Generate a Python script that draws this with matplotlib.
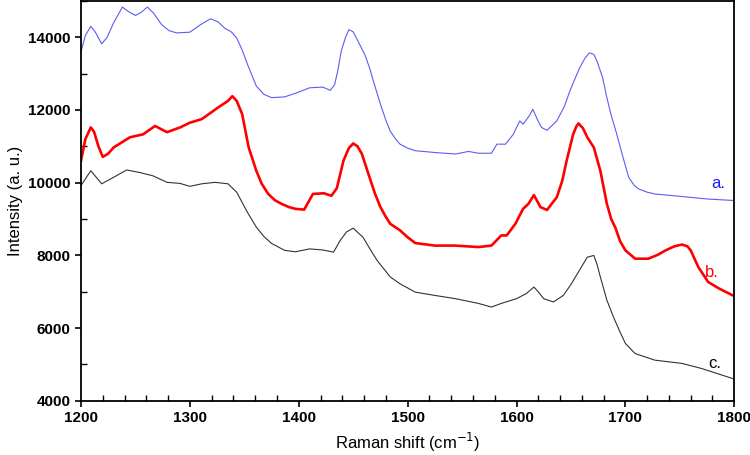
import numpy as np
import matplotlib.pyplot as plt
from matplotlib.ticker import MultipleLocator

plt.rcParams['font.family'] = ['Liberation Sans', 'DejaVu Sans']

# espectro a. (azul)
x_a = [1200, 1204, 1209, 1213, 1219, 1224, 1230, 1238, 1244, 1250, 1255, 1261, 1267,
       1274, 1281, 1288, 1300, 1310, 1319, 1326, 1332, 1338, 1343, 1348, 1353, 1361,
       1368, 1375, 1387, 1397, 1410, 1422, 1429, 1433, 1436, 1439, 1443, 1446, 1450,
       1456, 1461, 1465, 1470, 1475, 1480, 1484, 1489, 1493, 1500, 1507, 1525, 1544,
       1556, 1565, 1577, 1582, 1590, 1597, 1603, 1606, 1612, 1615, 1619, 1623, 1628,
       1637, 1644, 1649, 1654, 1658, 1663, 1667, 1671, 1674, 1679, 1683, 1687, 1691,
       1697, 1703, 1708, 1712, 1720, 1727, 1752, 1776, 1800]
y_a = [13600, 14050, 14300, 14150, 13820, 14000, 14400, 14830, 14700, 14600, 14680, 14830, 14650,
       14350, 14180, 14120, 14140, 14350, 14510, 14420, 14250, 14150, 13980, 13650, 13250, 12660,
       12430, 12340, 12360, 12460, 12610, 12630, 12540, 12700, 13100, 13620, 14000, 14210, 14150,
       13800, 13500, 13160, 12650, 12160, 11720, 11420, 11200, 11060, 10950, 10880, 10830, 10790,
       10860, 10810, 10810, 11060, 11060, 11330, 11700, 11610, 11850, 12020, 11750, 11520, 11440,
       11700, 12100, 12520, 12880, 13160, 13430, 13570, 13530, 13340, 12900, 12340, 11850, 11450,
       10790, 10150, 9930, 9830, 9740, 9690, 9620, 9550, 9510]

# espectro b. (rojo)
x_b = [1200, 1204, 1209, 1212, 1216, 1220, 1225, 1230, 1245, 1257, 1268, 1279, 1291,
       1300, 1311, 1326, 1335, 1339, 1343, 1348, 1354, 1361, 1366, 1372, 1378, 1384,
       1391, 1397, 1405, 1413, 1423, 1430, 1435, 1441, 1446, 1450, 1454, 1458, 1465,
       1470, 1475, 1480, 1484, 1493, 1500, 1507, 1525, 1544, 1565, 1577, 1586, 1591,
       1599, 1606, 1611, 1616, 1622, 1628, 1637, 1642, 1646, 1652, 1655, 1657, 1661,
       1665, 1671, 1677, 1683, 1687, 1691, 1695, 1700, 1709, 1721, 1730, 1737, 1745,
       1752, 1757, 1760, 1767, 1776, 1786, 1800]
y_b = [10600, 11200, 11520, 11400, 11000, 10710, 10800, 10970, 11250, 11330, 11560, 11390, 11520,
       11650, 11750, 12070, 12250, 12380, 12250, 11890, 10970, 10330, 9970, 9690, 9520, 9420,
       9330, 9280, 9260, 9690, 9710, 9640, 9850, 10600, 10950, 11080, 11000, 10790, 10150,
       9700, 9330, 9060, 8870, 8690, 8500, 8340, 8270, 8270, 8230, 8270, 8550, 8550,
       8870, 9280, 9420, 9660, 9330, 9250, 9600, 10050, 10600, 11330, 11550, 11630, 11500,
       11250, 10970, 10330, 9420, 9000, 8750, 8400, 8140, 7910, 7910, 8020, 8140, 8250,
       8300, 8250, 8140, 7680, 7270, 7090, 6880]

# espectro c. (negro)
x_c = [1200, 1205, 1209, 1214, 1219, 1230, 1242, 1254, 1266, 1279, 1291, 1300, 1311,
       1323, 1335, 1343, 1352, 1361, 1368, 1375, 1387, 1397, 1410, 1422, 1432, 1438,
       1444, 1450, 1459, 1466, 1472, 1484, 1493, 1507, 1525, 1544, 1565, 1577, 1586,
       1600, 1609, 1616, 1620, 1625, 1634, 1643, 1650, 1655, 1660, 1665, 1671, 1674,
       1677, 1683, 1689, 1695, 1700, 1709, 1727, 1752, 1770, 1800]
y_c = [9920, 10150, 10330, 10150, 9970, 10150, 10350, 10280, 10190, 10010, 9980, 9900, 9970,
       10010, 9970, 9740, 9230, 8780, 8520, 8330, 8140, 8100, 8180, 8150, 8090, 8410,
       8650, 8750, 8500, 8150, 7860, 7410, 7220, 6990, 6900, 6810, 6680, 6580, 6680,
       6810, 6950, 7130, 7000, 6810, 6720, 6900, 7200, 7450, 7700, 7950, 8000, 7750,
       7410, 6770, 6310, 5900, 5580, 5300, 5120, 5030, 4890, 4600]

etiquetas = ["a.", "b.", "c."]
pos_etq = [(1779, 9980), (1773, 7540), (1776, 5020)]

COL_A, COL_B, COL_C = "#5c5cf5", "#ff0000", "#333333"
COL_ETQ = ["#1a1aff", "#ff0000", "#000000"]

fig = plt.figure(figsize=(7.5, 4.55), dpi=100)
ax = fig.add_axes([0.108, 0.119, 0.871, 0.879])

ax.plot(x_a, y_a, color=COL_A, lw=0.8)
ax.plot(x_b, y_b, color=COL_B, lw=1.9)
ax.plot(x_c, y_c, color=COL_C, lw=0.8)

for txt, (px, py), col in zip(etiquetas, pos_etq, COL_ETQ):
    ax.text(px, py, txt, color=col, fontsize=12, va="center", ha="left")

ax.set_xlim(1200, 1800)
ax.set_ylim(4000, 15000)
ax.xaxis.set_major_locator(MultipleLocator(100))
ax.xaxis.set_minor_locator(MultipleLocator(20))
ax.yaxis.set_major_locator(MultipleLocator(2000))
ax.yaxis.set_minor_locator(MultipleLocator(1000))
ax.tick_params(which="major", direction="out", length=4, width=1.2, labelsize=11)
ax.tick_params(which="minor", direction="in", length=4, width=1.0)
for lab in ax.get_xticklabels() + ax.get_yticklabels():
    lab.set_fontweight("bold")
for s in ax.spines.values():
    s.set_linewidth(1.3)

ax.set_xlabel("Raman shift (cm$^{-1}$)", fontsize=12)
ax.set_ylabel("Intensity (a. u.)", fontsize=12)

fig.savefig("out.png", dpi=100)
